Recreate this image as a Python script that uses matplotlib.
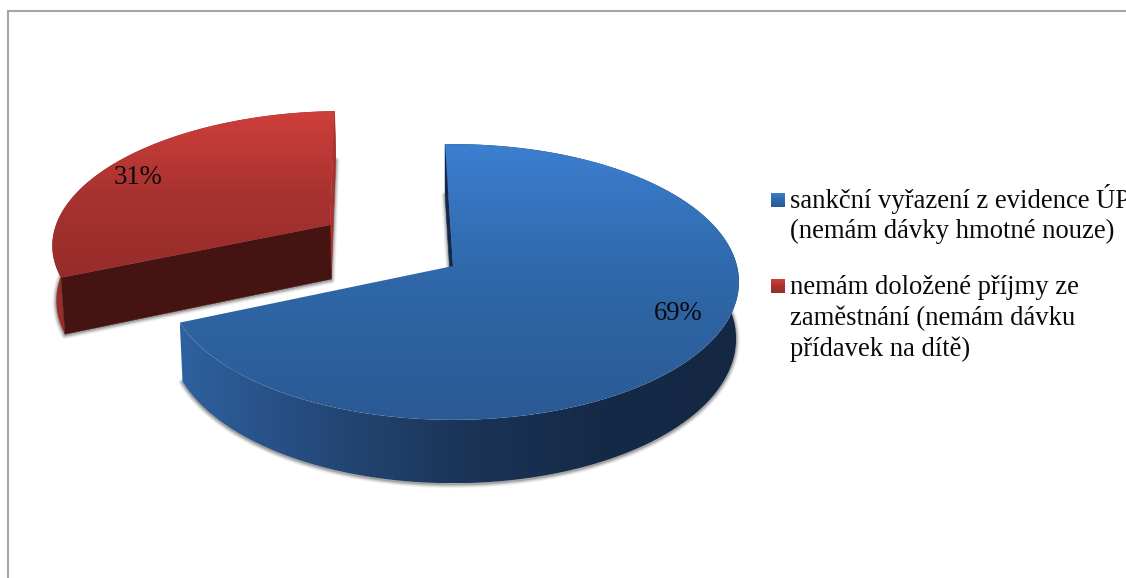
import numpy as np
import matplotlib
matplotlib.use("Agg")
import matplotlib.pyplot as plt
from matplotlib.patches import Polygon
from matplotlib.colors import LinearSegmentedColormap as LSC

# ---- data ----
categories = ["sankční vyřazení z evidence ÚP\n(nemám dávky hmotné nouze)",
              "nemám doložené příjmy ze\nzaměstnání (nemám dávku\npřídavek na dítě)"]
shares = [69, 31]
share_labels = ["69%", "31%"]

# ---- geometry / style ----
W, H = 1126, 578
X0, Y0, A, B, K = 453.0, 266.0, 284.0, 136.0, 0.116
START = -1.8
DEPTH = 56.0
BOTTOM_X = 0.99
OFFSET = {0: (0.0, 0.0), 1: (-0.4487, -0.3124)}
FONT = "Liberation Serif"
FS = 19.2

fig = plt.figure(figsize=(W / 100, H / 100), dpi=100, facecolor="white")
ax = fig.add_axes([0, 0, 1, 1])
ax.axis("off")


def project(phi, off, radius=1.0, bottom=False):
    phi = np.radians(np.atleast_1d(phi))
    ux = radius * np.sin(phi) + off[0]
    uy = -radius * np.cos(phi) + off[1]
    w = 1 - K * uy
    x = A * ux / w
    y = B * uy / w
    if bottom:
        return np.c_[X0 + x * BOTTOM_X, Y0 + y + DEPTH / w]
    return np.c_[X0 + x, Y0 + y]


def fill(poly, stops, vertical=True, z=2):
    xmin, ymin = poly.min(axis=0)
    xmax, ymax = poly.max(axis=0)
    cmap = LSC.from_list("g", stops)
    g = np.linspace(0, 1, 256)
    g = g[:, None] if vertical else g[None, :]
    im = ax.imshow(g, cmap=cmap, vmin=0, vmax=1, aspect="auto", origin="upper",
                   extent=(xmin, xmax, ymax, ymin), zorder=z, interpolation="bilinear")
    patch = Polygon(poly, closed=True, transform=ax.transData, fc="none", ec="none")
    ax.add_patch(patch)
    im.set_clip_path(patch)


def flat(poly, color, z=2):
    ax.add_patch(Polygon(poly, closed=True, fc=color, ec=color, lw=0.4, zorder=z))


edges = START + np.cumsum([0] + [s * 3.6 for s in shares])
spans = [(edges[0], edges[1]), (edges[1], edges[2])]

top_stops = [["#3C7ED0", "#2F67A8", "#2A5A94"], ["#CE3F3B", "#A83230", "#962C2A"]]
wall_stops = [["#2E619F", "#25497A", "#1B3558", "#152A47", "#142844"],
              ["#9A2E2B", "#7E2422"]]
end_face = [None, "#A83230"]
start_face = ["#13294B", "#451311"]

z = 1
# draw the detached red slice first, the blue one over it
for i in [1, 0]:
    a0, a1 = spans[i]
    off = OFFSET[i]
    phis = np.linspace(a0, a1, 240)
    top_arc = project(phis, off)
    bot_arc = project(phis, off, bottom=True)
    v_top = project(0, off, radius=0)
    v_bot = project(0, off, radius=0, bottom=True)

    # soft shadow of the lower face
    bottom_face = np.vstack([v_bot, bot_arc])
    for lw, alpha in [(8, 0.06), (6, 0.10), (4, 0.16), (2, 0.25)]:
        ax.add_patch(Polygon(bottom_face + [0, 1], closed=True, fc="none", ec="#404040",
                             lw=lw * 0.72, alpha=alpha, zorder=z, joinstyle="round"))
    z += 1
    # outer wall
    wall = np.vstack([top_arc, bot_arc[::-1]])
    fill(wall, wall_stops[i], vertical=False, z=z)
    z += 1
    # face at the clockwise end of the slice (hidden on the blue slice)
    if end_face[i]:
        flat(np.vstack([v_top, top_arc[-1], bot_arc[-1], v_bot]), end_face[i], z=z)
    z += 1
    # face at the clockwise start of the slice
    flat(np.vstack([v_top, top_arc[0], bot_arc[0], v_bot]), start_face[i], z=z)
    z += 1
    # top surface
    fill(np.vstack([v_top, top_arc]), top_stops[i], vertical=True, z=z)
    z += 1

# percentage labels
ax.text(678, 320, share_labels[0], family=FONT, fontsize=FS, ha="center", va="baseline",
        color="#0a0a0a", zorder=z)
ax.text(138, 184, share_labels[1], family=FONT, fontsize=FS, ha="center", va="baseline",
        color="#0a0a0a", zorder=z)

# legend
legend_y = [200, 286]
legend_baselines = [207.5, 294]
for i, (label, y, base) in enumerate(zip(categories, legend_y, legend_baselines)):
    sq = np.array([[771, y - 7], [785, y - 7], [785, y + 7], [771, y + 7]], float)
    fill(sq, top_stops[i], vertical=True, z=z)
    for j, line in enumerate(label.split("\n")):
        ax.text(790, base + j * 31, line, family=FONT, fontsize=FS, ha="left", va="baseline",
                color="#0a0a0a", zorder=z)

# frame (top and left only visible)
ax.plot([8, 8, W], [H, 11, 11], color="#A6A6A6", lw=1.5, solid_joinstyle="miter", zorder=z)

ax.set_xlim(0, W)
ax.set_ylim(H, 0)
fig.savefig("out.png", dpi=100, facecolor="white")
